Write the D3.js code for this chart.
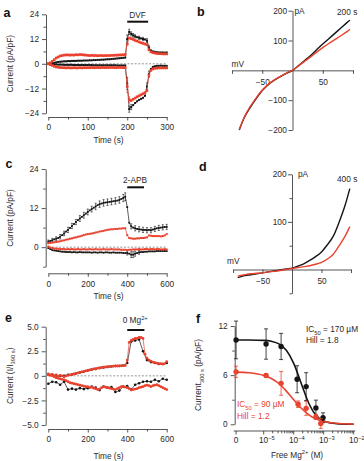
<!DOCTYPE html>
<html>
<head>
<meta charset="utf-8">
<script src="https://cdn.jsdelivr.net/npm/d3@7"></script>
<style>
  body { margin: 0; background: #fff; }
  svg { display: block; font-family: "Liberation Sans", Arial, sans-serif; }
</style>
</head>
<body>
<svg id="fig" width="364" height="461"></svg>
<script>
// ---------- data ----------

// a: current density vs time, one sample every 5 s (0-300 s)
const aTime = d3.range(0, 301, 5);
const aBlackUp = [0,0.1,0.3,0.5,0.7,0.9,1.0,1.1,1.2,1.2,
  1.3,1.3,1.4,1.4,1.4,1.5,1.5,1.5,1.6,1.6,
  1.6,1.7,1.7,1.8,1.8,1.9,1.9,2.0,2.0,2.1,
  2.2,2.2,2.3,2.4,2.5,2.6,2.7,2.8,2.9,3.0,
  12.0,15.5,14.5,13.8,13.3,12.9,12.6,12.3,12.0,11.8,
  11.2,7.8,6.5,6.0,5.8,5.6,5.5,5.5,5.5,5.4,
  5.5];
const aRedUp = [0,0.5,1.2,2.0,2.8,3.3,3.8,4.0,4.2,4.3,
  4.3,4.2,4.3,4.2,4.4,4.3,4.5,4.4,4.3,4.2,
  4.1,4.0,4.1,4.0,4.0,3.9,4.0,4.0,3.9,4.0,
  4.0,4.0,4.1,4.1,4.2,4.2,4.3,4.3,4.4,4.5,
  9.5,12.5,12.2,11.8,11.3,11.0,10.6,10.2,9.9,9.6,
  9.2,6.8,5.8,5.4,5.2,5.0,4.9,4.9,4.8,4.8,
  4.8];
const aBlackDown = [0,-0.1,-0.2,-0.3,-0.3,-0.4,-0.4,-0.4,-0.5,-0.5,
  -0.5,-0.5,-0.5,-0.6,-0.6,-0.6,-0.6,-0.6,-0.6,-0.6,
  -0.6,-0.6,-0.6,-0.7,-0.7,-0.7,-0.7,-0.7,-0.7,-0.7,
  -0.7,-0.7,-0.7,-0.7,-0.7,-0.8,-0.8,-0.8,-0.8,-0.8,
  -9.5,-22.0,-21.0,-20.0,-19.0,-18.2,-17.5,-17.0,-16.5,-15.5,
  -11.0,-5.0,-2.5,-1.5,-1.2,-1.0,-1.0,-0.9,-1.0,-1.0,
  -1.0];
const aRedDown = [0,-0.4,-0.8,-1.2,-1.5,-1.7,-1.8,-1.9,-1.9,-2.0,
  -1.9,-2.0,-2.0,-1.9,-2.0,-2.0,-1.9,-2.0,-1.9,-1.9,
  -1.9,-1.9,-1.8,-1.9,-1.9,-1.8,-1.9,-1.8,-1.8,-1.9,
  -1.8,-1.8,-1.8,-1.8,-1.9,-1.8,-1.8,-1.8,-1.9,-1.9,
  -11.0,-17.5,-17.8,-17.2,-16.6,-16.0,-15.5,-15.0,-14.5,-14.0,
  -13.0,-5.5,-3.2,-2.5,-2.2,-2.1,-2.0,-2.0,-2.0,-2.0,
  -2.0];
const aErrBlackUp = [[200,2.0],[205,1.3],[210,1.0],[215,0.9],[220,0.8],[230,0.8],[240,0.8],[250,1.0],[255,1.0]];
const aErrBlackDown = [[200,3.0],[205,1.5],[210,1.2],[250,1.8],[255,1.5]];
const aErrRedDown = [[200,3.0],[205,1.5]];
const dvfPeriod = [200, 253];

// b: I-V ramps at 200 s
const bVolt  = [-88,-80,-70,-60,-50,-40,-30,-20,-10,0,10,20,30,40,50,60,70,80,90,95];
const bBlack = [-200,-160,-125,-95,-68,-48,-33,-21,-10,0,16,33,50,69,88,106,124,142,160,168];
const bRed   = [-198,-158,-122,-92,-66,-47,-32,-20,-9,0,15,30,45,61,76,90,103,116,130,138];

// c: current density vs time, one sample every 10 s (0-600 s)
const cTime = d3.range(0, 601, 10);
const cBlackUp = [1.7,1.9,2.1,2.4,2.6,2.8,3.2,3.7,4.2,4.8,
  5.3,5.9,6.5,7.1,7.7,8.3,8.8,9.3,9.8,10.3,
  10.8,11.3,11.7,12.1,12.5,12.9,13.2,13.4,13.6,13.7,
  13.8,13.9,14.0,14.1,14.2,14.3,14.5,14.8,15.1,15.5,
  12.3,7.5,6.4,6.0,5.8,5.6,5.5,5.4,5.3,5.3,
  5.2,5.3,5.2,5.4,5.6,5.8,5.9,6.0,6.1,6.2,
  6.2];
const cRedUp = [1.2,1.3,1.4,1.5,1.6,1.7,1.8,2.0,2.1,2.3,
  2.4,2.6,2.7,2.9,3.0,3.2,3.3,3.5,3.7,3.9,
  4.0,4.1,4.2,4.3,4.5,4.6,4.8,4.9,5.0,5.2,
  5.3,5.4,5.5,5.5,5.6,5.6,5.7,5.7,5.8,5.8,
  3.7,2.8,2.7,2.6,2.6,2.7,2.7,2.8,2.8,2.9,
  3.0,3.6,3.5,3.4,3.4,3.4,3.4,3.3,3.4,3.6,
  4.0];
const cBlackDown = [-0.3,-0.6,-0.9,-1.0,-1.1,-1.2,-1.3,-1.4,-1.4,-1.5,
  -1.5,-1.5,-1.6,-1.5,-1.6,-1.6,-1.5,-1.6,-1.6,-1.6,
  -1.6,-1.6,-1.7,-1.6,-1.6,-1.7,-1.6,-1.6,-1.7,-1.6,
  -1.6,-1.7,-1.7,-1.6,-1.7,-1.7,-1.7,-1.7,-1.8,-1.8,
  -1.8,-2.0,-2.3,-2.3,-2.0,-1.8,-1.6,-1.5,-1.5,-1.4,
  -1.4,-1.3,-1.3,-1.3,-1.3,-1.2,-1.2,-1.2,-1.2,-1.2,
  -1.2];
const cRedDown = [0.2,-0.1,-0.3,-0.4,-0.5,-0.5,-0.6,-0.6,-0.6,-0.7,
  -0.6,-0.7,-0.6,-0.7,-0.7,-0.6,-0.7,-0.7,-0.6,-0.7,
  -0.7,-0.6,-0.7,-0.7,-0.6,-0.7,-0.7,-0.7,-0.6,-0.7,
  -0.7,-0.7,-0.6,-0.7,-0.7,-0.7,-0.7,-0.8,-0.8,-0.8,
  -0.9,-0.8,-0.8,-0.7,-0.7,-0.7,-0.6,-0.7,-0.7,-0.6,
  -0.6,-0.7,-0.6,-0.6,-0.7,-0.6,-0.6,-0.7,-0.7,-0.6,
  -0.7];
const cErrBlackUp = [[0,0.5],[20,0.6],[40,0.6],[60,0.7],[80,0.7],[100,0.8],[120,0.8],[140,0.8],
  [160,0.9],[180,0.9],[200,0.9],[220,0.9],[240,1.0],[260,1.0],[280,1.0],[300,1.0],[320,1.0],
  [340,1.0],[360,1.0],[380,1.1],[390,1.2],[420,0.8],[440,0.8],[460,0.8],[480,0.8],[500,0.8],
  [520,0.8],[540,0.8],[560,0.8],[580,0.8],[600,0.8]];
const cErrBlackDown = [[400,0.6],[420,0.9],[430,0.9],[440,0.8],[460,0.6]];
const apbPeriod = [400, 485];

// d: I-V ramps at 400 s
const dVolt  = [-92,-80,-70,-60,-50,-40,-30,-20,-10,0,10,20,30,40,50,60,70,80,90,98];
const dBlack = [-17,-13,-11,-9,-7,-5,-3,-1,1,3,7,12,19,27,37,52,70,100,135,170];
const dRed   = [-14,-11,-9,-8,-7,-5,-4,-2,0,2,4,6,8,11,15,22,32,50,70,90];

// e: normalised current vs time
const eTimeRed = d3.range(0, 601, 10);
const eRedUp = [0.2,0.1,0.15,0.0,0.1,-0.05,0.05,0.0,-0.1,0.0,
  0.05,0.1,0.15,0.2,0.25,0.3,0.35,0.4,0.45,0.5,
  0.55,0.6,0.65,0.7,0.72,0.78,0.8,0.85,0.88,0.9,
  0.93,0.95,0.97,0.98,1.0,1.0,1.02,1.03,1.05,1.05,
  1.6,3.4,3.6,3.7,3.8,3.8,3.9,3.9,3.8,2.2,
  1.8,1.6,1.5,1.4,1.35,1.3,1.25,1.25,1.2,1.25,
  1.45];
const eRedDown = [0.1,0.05,0.0,-0.1,-0.2,-0.25,-0.3,-0.35,-0.4,-0.5,
  -0.6,-0.7,-0.75,-0.8,-0.85,-0.9,-0.95,-1.0,-1.05,-1.1,
  -1.1,-1.2,-1.15,-1.25,-1.3,-1.4,-1.35,-1.2,-1.1,-1.15,
  -1.2,-1.25,-1.3,-1.35,-1.4,-1.3,-1.2,-1.1,-1.1,-1.15,
  -1.2,-1.3,-1.45,-1.4,-1.35,-1.3,-1.2,-1.15,-1.1,-1.0,
  -0.95,-1.0,-1.1,-1.0,-0.95,-0.9,-1.0,-1.1,-1.2,-1.3,
  -1.4];
const eTimeBlack = d3.range(0, 601, 20);
const eBlackUp = [0.15,0.1,0.05,0.0,0.0,0.1,0.15,0.25,0.35,0.45,
  0.55,0.65,0.7,0.8,0.85,0.9,0.95,1.0,1.0,1.05,
  1.3,3.5,3.6,3.7,2.5,1.6,1.4,1.3,1.2,1.2,
  1.3];
const eBlackDown = [-0.8,-0.6,-0.65,-0.9,-0.6,-1.4,-1.3,-1.4,-1.25,-1.35,
  -1.25,-1.1,-1.2,-1.45,-1.1,-1.2,-1.15,-1.65,-1.5,-1.1,
  -1.05,-1.4,-0.9,-0.75,-0.6,-0.55,-0.6,-0.4,-0.55,-0.3,
  -0.4];
const mgPeriod = [400, 487];

// f: dose-response to free Mg2+ (0 = nominally Mg-free)
const fConcBlack = [0, 1.2e-5, 3.8e-5, 1.3e-4, 2.6e-4, 5.5e-4, 9.5e-4];
const fBlack     = [10.3, 9.8, 9.5, 5.5, 4.6, 2.0, 0.8];
const fBlackErr  = [2.3, 1.85, 1.6, 1.65, 1.7, 0.95, 0.6];
const fConcRed   = [0, 1.2e-5, 3.8e-5, 1.4e-4, 2.6e-4, 5.5e-4, 8.0e-4];
const fRed       = [6.4, 5.95, 5.0, 2.45, 1.95, 0.9, 0.1];
const fRedErr    = [0.7, 0.2, 1.45, 0.4, 0.85, 0.3, 0.6];
// fitted curves, sampled off the plot
const fitConc  = [1.2e-6, 3.2e-6, 1e-5, 1.8e-5, 3.2e-5, 5.6e-5, 1e-4, 1.8e-4, 3.2e-4, 5.6e-4, 1e-3, 1.8e-3, 3.2e-3, 1e-2];
const fitBlack = [10.3, 10.29, 10.24, 10.13, 9.82, 9.06, 7.44, 4.94, 2.54, 1.07, 0.41, 0.15, 0.05, 0.01];
const fitRed   = [6.37, 6.29, 5.97, 5.60, 4.98, 4.08, 3.00, 1.96, 1.16, 0.64, 0.34, 0.18, 0.09, 0.02];

// ---------- drawing ----------
const RED = "#e9422f", BLACK = "#151515", INK = "#2a2a2a";
const FS = 8.3;
const svg = d3.select("#fig");

function styleAxis(g) {
  g.attr("font-family", null).attr("font-size", FS);
  g.selectAll("path, line").attr("stroke", INK).attr("stroke-width", 0.8);
  g.selectAll("text").attr("fill", INK);
}

// text with sub/superscript pieces: parts = [[str, ""|"sub"|"sup"], ...]
function rich(t, parts, fs) {
  let prev = 0;
  parts.forEach(([s, k]) => {
    const shift = k === "sub" ? 0.3 * fs : k === "sup" ? -0.4 * fs : 0;
    t.append("tspan").text(s)
      .attr("font-size", k ? fs * 0.7 : fs)
      .attr("dy", shift - prev);
    prev = shift;
  });
  return t;
}

function label(x, y, parts, opts = {}) {
  const t = svg.append("text")
    .attr("x", x).attr("y", y)
    .attr("text-anchor", opts.anchor || "start")
    .attr("fill", opts.fill || INK)
    .attr("font-size", opts.fs || FS);
  if (opts.bold) t.attr("font-weight", "bold");
  return rich(t, typeof parts === "string" ? [[parts, ""]] : parts, opts.fs || FS);
}

function yTitle(cx, cy, parts) {
  const t = svg.append("text")
    .attr("transform", `translate(${cx},${cy}) rotate(-90)`)
    .attr("text-anchor", "middle").attr("fill", INK).attr("font-size", FS);
  rich(t, parts, FS);
}

function panelLetter(x, y, s) {
  svg.append("text").attr("x", x).attr("y", y).text(s)
    .attr("font-size", 12.5).attr("font-weight", "bold").attr("fill", "#111");
}

function yAxis(y, at, major, minor, fmt, pad) {
  svg.append("g").attr("transform", `translate(${at},0)`)
    .call(d3.axisLeft(y).tickValues(major).tickSize(4).tickPadding(pad == null ? 3 : pad)
      .tickSizeOuter(0).tickFormat(fmt || d3.format("d")))
    .call(styleAxis);
  if (minor) svg.append("g").attr("transform", `translate(${at},0)`)
    .call(d3.axisLeft(y).tickValues(minor).tickSize(2.5).tickFormat(""))
    .call(g => g.select(".domain").remove())
    .call(styleAxis);
}

function xAxis(x, at, major, minor, fmt, pad) {
  svg.append("g").attr("transform", `translate(0,${at})`)
    .call(d3.axisBottom(x).tickValues(major).tickSize(3.5).tickPadding(pad == null ? 4 : pad)
      .tickSizeOuter(0).tickFormat(fmt || d3.format("d")))
    .call(styleAxis);
  if (minor) svg.append("g").attr("transform", `translate(0,${at})`)
    .call(d3.axisBottom(x).tickValues(minor).tickSize(2.5).tickFormat(""))
    .call(g => g.select(".domain").remove())
    .call(styleAxis);
}

function trace(x, y, t, v, color, mark, sz) {
  const pts = d3.zip(t, v);
  svg.append("path")
    .attr("d", d3.line().x(d => x(d[0])).y(d => y(d[1]))(pts))
    .attr("fill", "none").attr("stroke", color).attr("stroke-width", 0.7);
  const g = svg.append("g").attr("fill", color);
  if (mark === "circle") {
    g.selectAll("circle").data(pts).join("circle")
      .attr("cx", d => x(d[0])).attr("cy", d => y(d[1])).attr("r", sz / 2);
  } else {
    g.selectAll("rect").data(pts).join("rect")
      .attr("x", d => x(d[0]) - sz / 2).attr("y", d => y(d[1]) - sz / 2)
      .attr("width", sz).attr("height", sz);
  }
}

function errBars(x, y, t, v, errs, color) {
  const g = svg.append("g").attr("stroke", color).attr("stroke-width", 0.6);
  errs.forEach(([tt, e]) => {
    const val = v[t.indexOf(tt)];
    const cx = x(tt);
    g.append("line").attr("x1", cx).attr("x2", cx).attr("y1", y(val - e)).attr("y2", y(val + e));
    [val - e, val + e].forEach(w =>
      g.append("line").attr("x1", cx - 1).attr("x2", cx + 1).attr("y1", y(w)).attr("y2", y(w)));
  });
}

function zeroLine(x, y, x0, x1) {
  svg.append("line").attr("x1", x(x0)).attr("x2", x(x1)).attr("y1", y(0)).attr("y2", y(0))
    .attr("stroke", "#666").attr("stroke-width", 0.7).attr("stroke-dasharray", "2,1.6");
}

function drugBar(x, y0, period) {
  svg.append("rect").attr("x", x(period[0])).attr("y", y0)
    .attr("width", x(period[1]) - x(period[0])).attr("height", 2).attr("fill", "#111");
}

// ---- panel a ----
{
  const x = d3.scaleLinear().domain([0, 300]).range([48.3, 166.7]);
  const y = d3.scaleLinear().domain([-24, 24]).range([113.3, 14.3]);
  yAxis(y, 46, [-24, -12, 0, 12, 24], [-18, -6, 6, 18]);
  xAxis(x, 117, [0, 100, 200, 300], [50, 150, 250]);
  zeroLine(x, y, 0, 300);
  trace(x, y, aTime, aBlackUp, BLACK, "rect", 2);
  trace(x, y, aTime, aBlackDown, BLACK, "rect", 2);
  errBars(x, y, aTime, aBlackUp, aErrBlackUp, BLACK);
  errBars(x, y, aTime, aBlackDown, aErrBlackDown, BLACK);
  trace(x, y, aTime, aRedUp, RED, "rect", 2.6);
  trace(x, y, aTime, aRedDown, RED, "rect", 2.6);
  errBars(x, y, aTime, aRedDown, aErrRedDown, RED);
  drugBar(x, 20.7, dvfPeriod);
  label(137.5, 18, "DVF", { anchor: "middle" });
  yTitle(12.5, 63.8, [["Current (pA/pF)", ""]]);
  label(108.5, 143, "Time (s)", { anchor: "middle" });
  panelLetter(3.5, 17, "a");
}

// ---- panel b ----
{
  const x = d3.scaleLinear().domain([-100, 100]).range([232, 353]);
  const y = d3.scaleLinear().domain([-200, 200]).range([130, 10.7]);
  yAxis(y, x(0), [-200, -100, 100, 200], null, null, 1.5);
  xAxis(x, y(0), [-100, -50, 50, 100], null, d => Math.abs(d) === 50 ? d3.format("d")(d) : "", 5.5);
  const line = d3.line().curve(d3.curveMonotoneX).x(d => x(d[0])).y(d => y(d[1]));
  svg.append("path").attr("d", line(d3.zip(bVolt, bBlack)))
    .attr("fill", "none").attr("stroke", BLACK).attr("stroke-width", 1.4);
  svg.append("path").attr("d", line(d3.zip(bVolt, bRed)))
    .attr("fill", "none").attr("stroke", RED).attr("stroke-width", 1.4);
  label(294.5, 14, "pA");
  label(231.5, 66.7, "mV");
  label(337, 15, "200 s");
  panelLetter(197, 16, "b");
}

// ---- panel c ----
{
  const x = d3.scaleLinear().domain([0, 600]).range([48.3, 166.7]);
  const y = d3.scaleLinear().domain([-6, 24]).range([266.7, 169]);
  yAxis(y, 45.7, [0, 12, 24], [-6, 6, 18]);
  xAxis(x, 273.3, [0, 200, 400, 600], [100, 300, 500]);
  zeroLine(x, y, 0, 600);
  trace(x, y, cTime, cBlackUp, BLACK, "rect", 1.8);
  trace(x, y, cTime, cBlackDown, BLACK, "rect", 1.8);
  errBars(x, y, cTime, cBlackUp, cErrBlackUp, BLACK);
  errBars(x, y, cTime, cBlackDown, cErrBlackDown, BLACK);
  trace(x, y, cTime, cRedUp, RED, "rect", 2);
  trace(x, y, cTime, cRedDown, RED, "rect", 2);
  drugBar(x, 186.3, apbPeriod);
  label(135, 183, "2-APB", { anchor: "middle" });
  yTitle(12.5, 218, [["Current (pA/pF)", ""]]);
  label(108.5, 299, "Time (s)", { anchor: "middle" });
  panelLetter(5.5, 168, "c");
}

// ---- panel d ----
{
  const x = d3.scaleLinear().domain([-100, 100]).range([233, 351]);
  const y = d3.scaleLinear().domain([-50, 200]).range([293.3, 174.3]);
  yAxis(y, x(0), [100, 200], [-50, 50, 150], null, 1.5);
  xAxis(x, y(0), [-100, -50, 50, 100], null, d => Math.abs(d) === 50 ? d3.format("d")(d) : "", 5.5);
  const line = d3.line().curve(d3.curveMonotoneX).x(d => x(d[0])).y(d => y(d[1]));
  svg.append("path").attr("d", line(d3.zip(dVolt, dBlack)))
    .attr("fill", "none").attr("stroke", BLACK).attr("stroke-width", 1.4);
  svg.append("path").attr("d", line(d3.zip(dVolt, dRed)))
    .attr("fill", "none").attr("stroke", RED).attr("stroke-width", 1.4);
  label(298, 177, "pA");
  label(227, 264, "mV");
  label(337, 182, "400 s");
  panelLetter(199, 170.5, "d");
}

// ---- panel e ----
{
  const x = d3.scaleLinear().domain([0, 600]).range([48.3, 166.7]);
  const y = d3.scaleLinear().domain([-5, 5]).range([425, 326.7]);
  const fmt = d => d === 0 ? "0" : d3.format(".1f")(d);
  yAxis(y, 45.7, [-5, -2.5, 0, 2.5, 5], [-3.75, -1.25, 1.25, 3.75], fmt);
  xAxis(x, 429, [0, 200, 400, 600], [100, 300, 500]);
  zeroLine(x, y, 0, 600);
  trace(x, y, eTimeBlack, eBlackUp, BLACK, "circle", 2.6);
  trace(x, y, eTimeBlack, eBlackDown, BLACK, "circle", 2.6);
  trace(x, y, eTimeRed, eRedUp, RED, "circle", 2.8);
  trace(x, y, eTimeRed, eRedDown, RED, "circle", 2.8);
  drugBar(x, 329, mgPeriod);
  label(122.7, 323, [["0 Mg", ""], ["2+", "sup"]]);
  yTitle(12.5, 375.8, [["Current (I/I", ""], ["390 s", "sub"], [")", ""]]);
  label(108.5, 458.5, "Time (s)", { anchor: "middle" });
  panelLetter(5, 322, "e");
}

// ---- panel f ----
{
  const ZERO_AT = 1.2e-6;   // where the Mg-free point is placed on the log axis
  const x = d3.scaleLog().domain([1e-6, 1e-2]).range([233.7, 353.7]);
  const cx = c => x(c === 0 ? ZERO_AT : c);
  const y = d3.scaleLinear().domain([0, 12]).range([424.3, 326]);
  yAxis(y, 234.7, [0, 6, 12], [3, 9]);

  // x axis: log scale with a "0" position
  svg.append("line").attr("x1", 233.7).attr("x2", 355.3).attr("y1", 431).attr("y2", 431)
    .attr("stroke", INK).attr("stroke-width", 0.8);
  const decades = [1e-5, 1e-4, 1e-3, 1e-2];
  const minors = x.ticks().filter(v => v > 1e-5 && v < 1e-2 && !decades.includes(v));
  const tk = svg.append("g").attr("stroke", INK).attr("stroke-width", 0.8);
  [ZERO_AT, ...decades].forEach(v =>
    tk.append("line").attr("x1", x(v)).attr("x2", x(v)).attr("y1", 431).attr("y2", 434.5));
  minors.forEach(v =>
    tk.append("line").attr("x1", x(v)).attr("x2", x(v)).attr("y1", 431).attr("y2", 433.3));
  label(cx(0), 443.3, "0", { anchor: "middle" });
  decades.forEach(v => {
    const e = Math.round(Math.log10(v));
    label(x(v) - 4.7, 443.3, [["10", ""], ["\u2212" + Math.abs(e), "sup"]]);
  });

  const fit = d3.line().curve(d3.curveMonotoneX).x(d => x(d[0])).y(d => y(d[1]));
  svg.append("path").attr("d", fit(d3.zip(fitConc, fitBlack)))
    .attr("fill", "none").attr("stroke", BLACK).attr("stroke-width", 1.6);
  svg.append("path").attr("d", fit(d3.zip(fitConc, fitRed)))
    .attr("fill", "none").attr("stroke", RED).attr("stroke-width", 1.6);

  function points(conc, vals, errs, color) {
    const g = svg.append("g");
    conc.forEach((c, i) => {
      const px = cx(c), lo = y(vals[i] - errs[i]), hi = y(vals[i] + errs[i]);
      g.append("line").attr("x1", px).attr("x2", px).attr("y1", lo).attr("y2", hi)
        .attr("stroke", color).attr("stroke-width", 0.8);
      [lo, hi].forEach(w => g.append("line").attr("x1", px - 2).attr("x2", px + 2)
        .attr("y1", w).attr("y2", w).attr("stroke", color).attr("stroke-width", 0.8));
    });
    g.selectAll("circle").data(d3.zip(conc, vals)).join("circle")
      .attr("cx", d => cx(d[0])).attr("cy", d => y(d[1])).attr("r", 2.7).attr("fill", color);
  }
  points(fConcBlack, fBlack, fBlackErr, BLACK);
  points(fConcRed, fRed, fRedErr, RED);

  label(306, 332.2, [["IC", ""], ["50", "sub"], [" = 170 \u00b5M", ""]]);
  label(306, 343.3, "Hill = 1.8");
  label(237, 407.2, [["IC", ""], ["50", "sub"], [" = 90 \u00b5M", ""]], { fill: RED });
  label(237, 419.3, "Hill = 1.2", { fill: RED });
  yTitle(201, 375, [["Current", ""], ["300 s", "sub"], [" (pA/pF)", ""]]);
  label(297, 457.5, [["Free Mg", ""], ["2+", "sup"], [" (M)", ""]], { anchor: "middle" });
  panelLetter(196, 323, "f");
}
</script>
</body>
</html>
